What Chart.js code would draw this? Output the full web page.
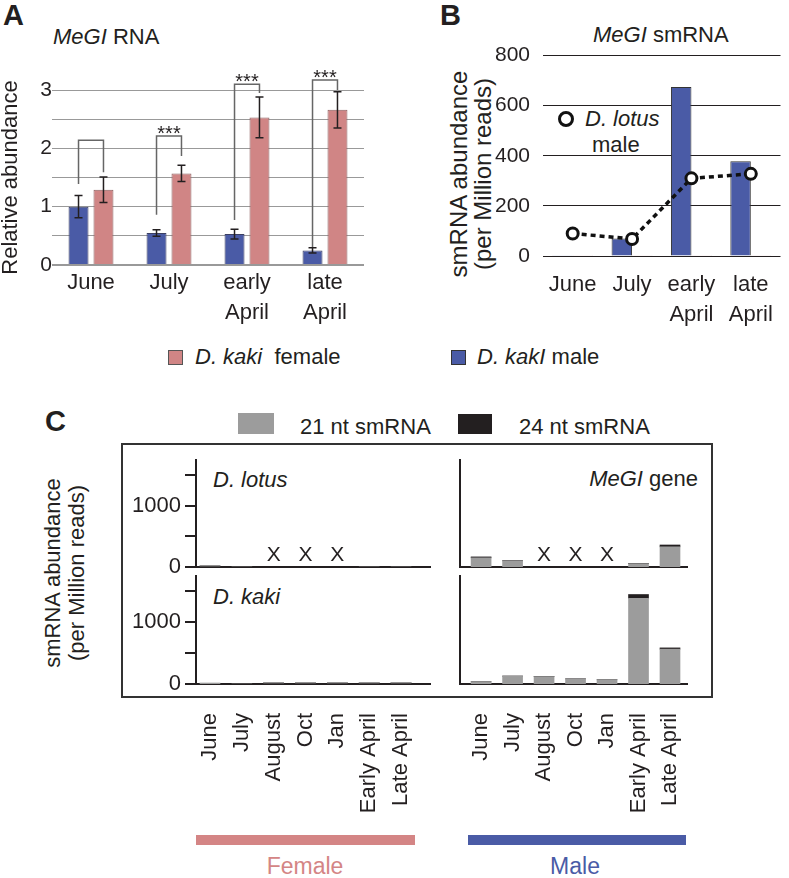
<!DOCTYPE html>
<html>
<head>
<meta charset="utf-8">
<script src="https://cdn.jsdelivr.net/npm/chart.js@4.4.0/dist/chart.umd.min.js"></script>
<style>
  body { margin: 0; background: #fff; }
  #fig { position: relative; width: 789px; height: 878px; overflow: hidden;
         font-family: 'Liberation Sans', Arial, sans-serif; color: #231f20; }
  #fig canvas { position: absolute; }
  .t { position: absolute; white-space: nowrap; font-size: 22px; line-height: 1; }
  .tag { position: absolute; font-weight: bold; font-size: 29px; line-height: 1; }
  .sq { position: absolute; box-sizing: border-box; }
</style>
</head>
<body>
<div id="fig">
  <div class="tag" style="left:3px;top:1px">A</div>
  <div class="tag" style="left:440px;top:1px">B</div>
  <div class="tag" style="left:45px;top:407px">C</div>

  <div class="t" style="left:53px;top:26px"><i>MeGI</i> RNA</div>
  <div class="t" style="left:593px;top:24px"><i>MeGI</i> smRNA</div>

  <div class="t" style="left:341px;top:150px;width:260px;text-align:center;font-size:24px;line-height:24px;transform:rotate(-90deg)">smRNA abundance<br>(per Million reads)</div>

  <!-- legend A/B -->
  <div class="sq" style="left:168px;top:350px;width:15px;height:15px;background:#d08585;border:1px solid #555"></div>
  <div class="t" style="left:195px;top:346px"><i>D. kaki</i>&nbsp; female</div>
  <div class="sq" style="left:451px;top:350px;width:15px;height:15px;background:#4a5ba6;border:1px solid #333"></div>
  <div class="t" style="left:477px;top:346px"><i>D. kakI</i> male</div>

  <div class="sq" style="left:558px;top:111px;width:16px;height:16px;border:3px solid #111;border-radius:50%"></div>
  <div class="t" style="left:585px;top:108px"><i>D. lotus</i></div>
  <div class="t" style="left:592px;top:134px">male</div>

  <!-- legend C -->
  <div class="sq" style="left:238px;top:413px;width:36px;height:21px;background:#9c9c9c"></div>
  <div class="t" style="left:300px;top:416px">21 nt smRNA</div>
  <div class="sq" style="left:458px;top:414px;width:34px;height:20px;background:#231f20"></div>
  <div class="t" style="left:519px;top:416px">24 nt smRNA</div>

  <div class="sq" style="left:121px;top:443px;width:592px;height:255px;border:2px solid #333"></div>
  <div class="t" style="left:213px;top:469px"><i>D. lotus</i></div>
  <div class="t" style="left:213px;top:586px"><i>D. kaki</i></div>
  <div class="t" style="right:91px;top:468px"><i>MeGI</i> gene</div>

  <div class="t" style="left:-45px;top:549px;width:220px;text-align:center;line-height:24px;transform:rotate(-90deg)">smRNA abundance<br>(per Million reads)</div>

  <div class="sq" style="left:196px;top:835px;width:219px;height:10px;background:#d48585"></div>
  <div class="t" style="left:305px;top:855px;font-size:23px;color:#d48585;transform:translateX(-50%)">Female</div>
  <div class="sq" style="left:468px;top:835px;width:218px;height:10px;background:#4a5ba6"></div>
  <div class="t" style="left:575px;top:855px;font-size:23px;color:#4a5ba6;transform:translateX(-50%)">Male</div>

  <canvas id="cA" width="380" height="300" style="left:0;top:40px"></canvas>
  <canvas id="cB" width="399" height="300" style="left:390px;top:30px"></canvas>
  <canvas id="cTL" width="310" height="125" style="left:130px;top:450px"></canvas>
  <canvas id="cTR" width="265" height="125" style="left:440px;top:450px"></canvas>
  <canvas id="cBL" width="310" height="264" style="left:130px;top:566px"></canvas>
  <canvas id="cBR" width="265" height="264" style="left:440px;top:566px"></canvas>
</div>

<script>
// ---- panel A: MeGI RNA, relative abundance
const monthsA = ["June", "July", ["early", "April"], ["late", "April"]];
const maleRel = [1.0, 0.55, 0.53, 0.25];
const maleErr = [0.19, 0.055, 0.085, 0.045];
const femaleRel = [1.29, 1.57, 2.53, 2.66];
const femaleErr = [0.22, 0.14, 0.35, 0.31];
const bracketTop = [2.14, 2.21, 3.10, 3.17];
const bracketMaleFoot = [1.39, 0.86, 0.77, 0.31];
const bracketFemaleFoot = [1.59, 1.87, 2.95, 3.0];
const stars = ["", "***", "***", "***"];

// ---- panel B: MeGI smRNA
const monthsB = ["June", "July", ["early", "April"], ["late", "April"]];
const kakiMaleSm = [3, 70, 675, 378];
const kakiFemaleSm = [3, 3, 3, 3];
const lotusMaleSm = [90, 68, 310, 328];

// ---- panel C: smRNA by size class (null = no sample, marked X)
const monthsC = ["June", "July", "August", "Oct", "Jan", "Early April", "Late April"];
const ticksC = [0, 500, 1000, 1500];
const lotusFemale21 = [20, 0, null, null, null, 0, 0];
const lotusFemale24 = [0, 0, null, null, null, 0, 0];
const lotusMale21 = [150, 100, null, null, null, 55, 330];
const lotusMale24 = [15, 5, null, null, null, 5, 30];
const kakiFemale21 = [5, 0, 25, 25, 25, 25, 25];
const kakiFemale24 = [0, 0, 0, 0, 0, 0, 0];
const kakiMale21 = [35, 125, 120, 82, 68, 1390, 565];
const kakiMale24 = [2, 5, 4, 3, 2, 60, 20];

const BLUE = "#4a5ba6", PINK = "#d08585", GREY = "#9c9c9c", INK = "#231f20";
const FONT = "'Liberation Sans', Arial, sans-serif";

Chart.defaults.font.family = FONT;
Chart.defaults.color = INK;
Chart.defaults.animation = false;
Chart.defaults.responsive = false;
Chart.defaults.plugins.legend.display = false;
Chart.defaults.plugins.tooltip.enabled = false;

const annotateA = {
  id: "annotateA",
  afterDatasetsDraw(chart) {
    const { ctx, scales: { y } } = chart;
    const male = chart.getDatasetMeta(0).data;
    const female = chart.getDatasetMeta(1).data;
    ctx.save();
    ctx.strokeStyle = INK;
    ctx.lineWidth = 1.5;
    [[male, maleRel, maleErr], [female, femaleRel, femaleErr]].forEach(([bars, vals, errs]) => {
      bars.forEach((bar, i) => {
        const lo = y.getPixelForValue(vals[i] - errs[i]);
        const hi = y.getPixelForValue(vals[i] + errs[i]);
        ctx.beginPath();
        ctx.moveTo(bar.x, lo); ctx.lineTo(bar.x, hi);
        ctx.moveTo(bar.x - 4, lo); ctx.lineTo(bar.x + 4, lo);
        ctx.moveTo(bar.x - 4, hi); ctx.lineTo(bar.x + 4, hi);
        ctx.stroke();
      });
    });
    ctx.strokeStyle = "#666";
    ctx.fillStyle = INK;
    ctx.font = "20px " + FONT;
    ctx.textAlign = "center";
    ctx.textBaseline = "alphabetic";
    male.forEach((bar, i) => {
      const xb = bar.x, xf = female[i].x;
      const top = y.getPixelForValue(bracketTop[i]);
      ctx.beginPath();
      ctx.moveTo(xb, y.getPixelForValue(bracketMaleFoot[i]));
      ctx.lineTo(xb, top);
      ctx.lineTo(xf, top);
      ctx.lineTo(xf, y.getPixelForValue(bracketFemaleFoot[i]));
      ctx.stroke();
      if (stars[i]) ctx.fillText(stars[i], (xb + xf) / 2, top + 4);
    });
    ctx.restore();
  }
};

new Chart(document.getElementById("cA"), {
  type: "bar",
  data: {
    labels: monthsA,
    datasets: [
      { data: maleRel, backgroundColor: BLUE, borderColor: "#3b3f63", borderWidth: 1,
        barPercentage: 0.8, categoryPercentage: 0.64 },
      { data: femaleRel, backgroundColor: PINK, borderColor: "#8c5f5f", borderWidth: 1,
        barPercentage: 0.8, categoryPercentage: 0.64 }
    ]
  },
  options: {
    layout: { padding: { top: 50, right: 16, left: 0, bottom: 0 } },
    scales: {
      y: {
        min: 0, max: 3,
        afterFit: s => { s.width = 52; },
        ticks: { stepSize: 0.5, padding: 0, font: { size: 21 },
                 callback: v => Number.isInteger(v) ? v : "" },
        grid: { color: "#999", lineWidth: c => c.tick && c.tick.value === 0 ? 2 : 1, drawTicks: false },
        border: { display: false },
        title: { display: true, text: "Relative abundance", font: { size: 22, lineHeight: 1 }, padding: 0 }
      },
      x: {
        afterFit: s => { s.height = 75; },
        grid: { display: false },
        border: { display: false },
        ticks: { font: { size: 22, lineHeight: 1.35 }, padding: -5 }
      }
    }
  },
  plugins: [annotateA]
});

new Chart(document.getElementById("cB"), {
  type: "bar",
  data: {
    labels: monthsB,
    datasets: [
      { type: "line", data: lotusMaleSm, order: 0, borderColor: "#111", borderWidth: 3.5,
        borderDash: [5, 4], pointRadius: 5.5, pointBorderWidth: 3,
        pointBackgroundColor: "#fff", pointBorderColor: "#111" },
      { data: kakiMaleSm, order: 1, backgroundColor: BLUE, borderColor: "#333", borderWidth: 1,
        barPercentage: 1, categoryPercentage: 0.69 },
      { data: kakiFemaleSm, order: 2, backgroundColor: PINK, borderColor: "#444", borderWidth: 1,
        barPercentage: 1, categoryPercentage: 0.69 }
    ]
  },
  options: {
    layout: { padding: { top: 22, right: 2, left: 0, bottom: 0 } },
    scales: {
      y: {
        min: 0, max: 800,
        afterFit: s => { s.width = 153; },
        ticks: { stepSize: 200, padding: 13, font: { size: 21 } },
        grid: { color: INK, lineWidth: 1, drawTicks: false },
        border: { display: false }
      },
      x: {
        afterFit: s => { s.height = 74; },
        grid: { display: false },
        border: { display: false },
        ticks: { font: { size: 22, lineHeight: 1.35 }, padding: 6 }
      }
    }
  }
});

const xMarks = {
  id: "xMarks",
  afterDatasetsDraw(chart, args, opts) {
    if (!opts.values) return;
    const { ctx, scales: { x, y } } = chart;
    ctx.save();
    ctx.fillStyle = INK;
    ctx.font = "21px " + FONT;
    ctx.textAlign = "center";
    ctx.textBaseline = "middle";
    opts.values.forEach((v, i) => {
      if (v === null) ctx.fillText("X", x.getPixelForValue(i), y.getPixelForValue(0) - 12);
    });
    ctx.restore();
  }
};

function panelC(id, s21, s24, left, bottom) {
  const pts = arr => arr.map((v, i) => ({ x: i, y: v })).filter(p => p.y !== null);
  const range = left ? { min: -0.44, max: 6.91 } : { min: -0.67, max: 6.54 };
  new Chart(document.getElementById(id), {
    type: "bar",
    data: {
      datasets: [
        { data: pts(s21), backgroundColor: GREY, barThickness: 20 },
        { data: pts(s24), backgroundColor: INK, barThickness: 20 }
      ]
    },
    options: {
      layout: { padding: { top: 10, right: left ? 10 : 18, left: 0, bottom: 0 } },
      plugins: { xMarks: { values: bottom ? null : s21 } },
      scales: {
        x: {
          type: "linear", stacked: true, offset: false, ...range,
          afterBuildTicks: s => { s.ticks = monthsC.map((_, i) => ({ value: i })); },
          afterFit: s => { s.height = bottom ? 146 : 8; s.paddingLeft = 0; s.paddingRight = 0; },
          grid: { display: false },
          border: { display: true, color: INK, width: 2 },
          ticks: { display: bottom, autoSkip: false, minRotation: 90, maxRotation: 90,
                   padding: 21, font: { size: 22 }, callback: v => monthsC[v] }
        },
        y: {
          stacked: true, min: 0, max: 1750,
          afterBuildTicks: s => { s.ticks = ticksC.map(v => ({ value: v })); },
          afterFit: s => { s.width = left ? 66 : 20; s.paddingTop = 0; s.paddingBottom = 0; },
          ticks: { display: left, autoSkip: false, padding: 4, font: { size: 22 },
                   callback: v => (v === 0 || v === 1000) ? v : "" },
          grid: { display: left, drawOnChartArea: false, drawTicks: true, tickLength: 11,
                  color: INK, lineWidth: 2 },
          border: { display: true, color: INK, width: 2 }
        }
      }
    },
    plugins: [xMarks]
  });
}

panelC("cTL", lotusFemale21, lotusFemale24, true, false);
panelC("cTR", lotusMale21, lotusMale24, false, false);
panelC("cBL", kakiFemale21, kakiFemale24, true, true);
panelC("cBR", kakiMale21, kakiMale24, false, true);
</script>
</body>
</html>
